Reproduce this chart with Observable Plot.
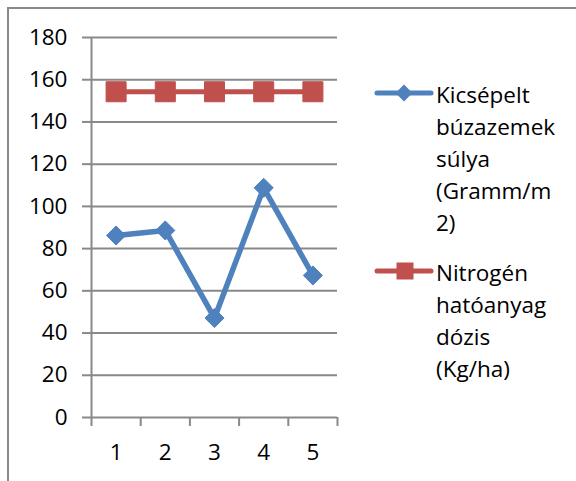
<!DOCTYPE html>
<html>
<head>
<meta charset="utf-8">
<script src="https://cdn.jsdelivr.net/npm/d3@7"></script>
<script src="https://cdn.jsdelivr.net/npm/@observablehq/plot@0.6"></script>
<style>
  html, body { margin: 0; padding: 0; background: #fff; }
  #wrap { position: relative; width: 576px; height: 481px; overflow: hidden; font-family: "Open Sans", sans-serif; }
  #frame { position: absolute; left: 7px; top: 7px; width: 600px; height: 500px; border-top: 2px solid #898989; border-left: 2px solid #898989; }
  #chart { position: absolute; left: 0; top: 0; }
  .legend-item { position: absolute; left: 0; top: 0; }
  .legend-text { position: absolute; left: 436px; font-size: 22.5px; line-height: 32px; color: #000; white-space: nowrap; }
  .legend-key { position: absolute; left: 370px; }
</style>
</head>
<body>
<div id="wrap">
  <div id="frame"></div>
  <div id="chart"></div>
  <div id="legend"></div>
</div>
<script>
// Trial plots 1–5
const categories = [1, 2, 3, 4, 5];
// Threshed wheat weight (g/m2)
const grainWeight = [86.2, 88.6, 47.1, 108.8, 67.3];
// Nitrogen active-ingredient dose (kg/ha)
const nitrogenDose = [154.3, 154.3, 154.3, 154.3, 154.3];
const yTicks = [0, 20, 40, 60, 80, 100, 120, 140, 160, 180];

const seriesLabels = [
  ["Kicsépelt", "búzazemek", "súlya", "(Gramm/m", "2)"],
  ["Nitrogén", "hatóanyag", "dózis", "(Kg/ha)"]
];
const seriesColors = ["#4F81BD", "#C0504D"];
const seriesSymbols = ["diamond2", "square"];

const gridColor = "#898989";

const grainRows = categories.map((c, i) => ({ cat: c, value: grainWeight[i] }));
const doseRows = categories.map((c, i) => ({ cat: c, value: nitrogenDose[i] }));

// category boundaries: tick marks sit between the categories
const boundaries = d3.range(categories.length + 1).map(i => categories[0] - 0.5 + i);

const chart = Plot.plot({
  width: 576,
  height: 481,
  marginLeft: 91,
  marginRight: 239,
  marginTop: 37,
  marginBottom: 64,
  style: { fontFamily: "'Open Sans', sans-serif", fontSize: "22.5px", color: "#000", background: "transparent", overflow: "visible" },
  x: { type: "linear", domain: [boundaries[0], boundaries[boundaries.length - 1]] },
  y: { domain: [0, 180] },
  marks: [
    Plot.gridY(yTicks, { stroke: gridColor, strokeOpacity: 1, strokeWidth: 2 }),
    Plot.axisY(yTicks, { tickSize: 9, tickPadding: 15, stroke: gridColor, strokeWidth: 2, label: null, fontSize: 22.5 }),
    Plot.ruleX([boundaries[0]], { stroke: gridColor, strokeWidth: 2 }),
    Plot.axisX(boundaries, { tickSize: 9, stroke: gridColor, strokeWidth: 2, tickFormat: () => "", label: null }),
    Plot.axisX(categories, { tickSize: 0, tickPadding: 27, label: null, fontSize: 22.5, tickFormat: d => String(d) }),
    Plot.line(grainRows, { x: "cat", y: "value", stroke: seriesColors[0], strokeWidth: 5.5 }),
    Plot.dot(grainRows, { x: "cat", y: "value", symbol: seriesSymbols[0], r: 8.6, fill: seriesColors[0], stroke: seriesColors[0], strokeWidth: 1 }),
    Plot.line(doseRows, { x: "cat", y: "value", stroke: seriesColors[1], strokeWidth: 5 }),
    Plot.dot(doseRows, { x: "cat", y: "value", symbol: seriesSymbols[1], r: 11.3, fill: seriesColors[1], stroke: seriesColors[1], strokeWidth: 1 })
  ]
});
document.getElementById("chart").appendChild(chart);

// Legend: line-with-marker key beside wrapped series names
const legend = document.getElementById("legend");
const itemTops = [79, 257];
seriesLabels.forEach((lines, i) => {
  const keySvg = d3.create("svg")
    .attr("class", "legend-key")
    .attr("width", 70).attr("height", 24)
    .style("top", (itemTops[i] + 2) + "px");
  keySvg.append("line")
    .attr("x1", 7).attr("x2", 61).attr("y1", 12).attr("y2", 12)
    .attr("stroke", seriesColors[i]).attr("stroke-width", 5).attr("stroke-linecap", "round");
  if (seriesSymbols[i] === "square") {
    keySvg.append("rect").attr("x", 26.5).attr("y", 3.5).attr("width", 17).attr("height", 17)
      .attr("fill", seriesColors[i]);
  } else {
    keySvg.append("path").attr("d", "M34,3.5L42.5,12L34,20.5L25.5,12Z").attr("fill", seriesColors[i]);
  }
  legend.appendChild(keySvg.node());
  const text = document.createElement("div");
  text.className = "legend-text";
  text.style.top = itemTops[i] + "px";
  text.innerHTML = lines.join("<br>");
  legend.appendChild(text);
});
</script>
</body>
</html>
